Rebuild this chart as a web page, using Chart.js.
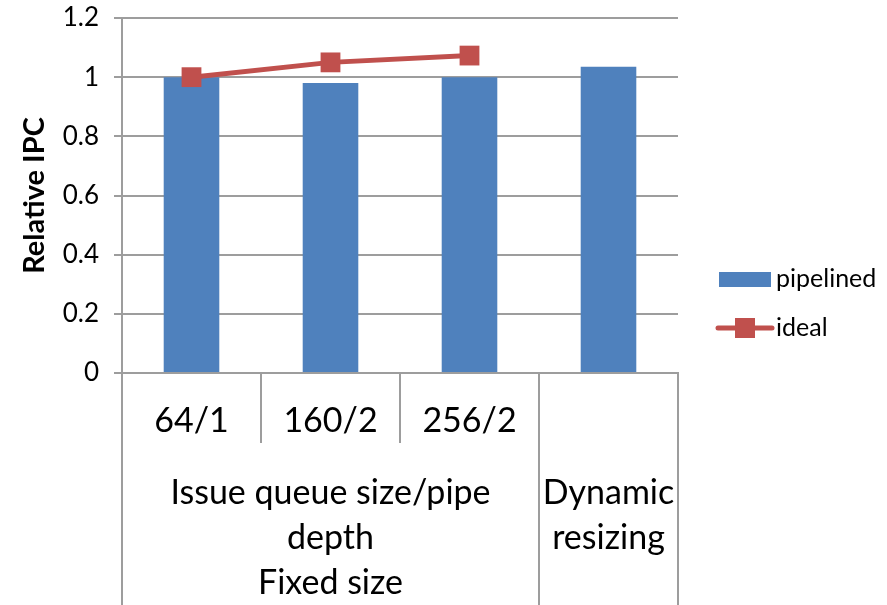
<!DOCTYPE html>
<html>
<head>
<meta charset="utf-8">
<script src="https://cdn.jsdelivr.net/npm/chart.js@4/dist/chart.umd.min.js"></script>
<style>
  html, body { margin: 0; padding: 0; background: #fff; }
  #wrap { width: 887px; height: 605px; position: relative; }
</style>
</head>
<body>
<div id="wrap"><canvas id="chart"></canvas></div>
<script>
// dados
const categorias = ['64/1', '160/2', '256/2', ''];
const pipelined = [1.0, 0.98, 1.0, 1.035];
const ideal = [1.0, 1.05, 1.073, null];
const yTicks = [0, 0.2, 0.4, 0.6, 0.8, 1, 1.2];
const grupoLabels = [['Issue queue size/pipe', 'depth', 'Fixed size'], ['Dynamic', 'resizing']];
const grupoInicio = [0, 3];
const grupoFim = [2, 3];

const AZUL = '#4F81BD';
const VERMELHO = '#C0504D';
const CINZA = '#9d9d9d';
const FONTE = 'Lato, "Open Sans", sans-serif';

// eixo de categorias em dois níveis + legenda
const grupoPlugin = {
    id: 'grupos',
    afterDraw(chart) {
        const ctx = chart.ctx;
        const x = chart.scales.x;
        const area = chart.chartArea;
        const passo = x.getPixelForValue(1) - x.getPixelForValue(0);
        const borda = (i) => x.getPixelForValue(i) - passo / 2;
        const topoGrupo = area.bottom + 70;

        ctx.save();
        ctx.strokeStyle = CINZA;
        ctx.lineWidth = 2;
        const limites = [0];
        grupoFim.forEach(f => limites.push(f + 1));
        limites.forEach(i => {
            const px = Math.round(borda(i));
            ctx.beginPath();
            ctx.moveTo(px, topoGrupo);
            ctx.lineTo(px, chart.height);
            ctx.stroke();
        });

        ctx.fillStyle = '#000';
        ctx.font = '34px ' + FONTE;
        ctx.textAlign = 'center';
        ctx.textBaseline = 'middle';
        grupoLabels.forEach((linhas, g) => {
            const cx = (borda(grupoInicio[g]) + borda(grupoFim[g] + 1)) / 2;
            linhas.forEach((t, k) => {
                ctx.fillText(t, cx, 493 + k * 45);
            });
        });

        // legenda
        const ds = chart.data.datasets;
        const lx = 719;
        ctx.font = '25px ' + FONTE;
        ctx.textAlign = 'left';
        ds.forEach(d => {
            const cy = d.type === 'bar' ? 279 : 328;
            if (d.type === 'bar') {
                ctx.fillStyle = d.backgroundColor;
                ctx.fillRect(lx, cy - 7, 52, 15);
            } else {
                ctx.strokeStyle = d.borderColor;
                ctx.lineWidth = 5;
                ctx.lineCap = 'round';
                ctx.beginPath();
                ctx.moveTo(lx - 1, cy);
                ctx.lineTo(lx + 53, cy);
                ctx.stroke();
                ctx.fillStyle = d.pointBackgroundColor;
                ctx.fillRect(lx + 16, cy - 10, 20, 20);
            }
            ctx.fillStyle = '#000';
            ctx.fillText(d.label, lx + 57, cy);
        });
        ctx.restore();
    }
};

new Chart(document.getElementById('chart'), {
    data: {
        labels: categorias,
        datasets: [
            {
                type: 'bar',
                label: 'pipelined',
                data: pipelined,
                backgroundColor: AZUL,
                categoryPercentage: 1,
                barPercentage: 0.4,
                order: 2
            },
            {
                type: 'line',
                label: 'ideal',
                data: ideal,
                borderColor: VERMELHO,
                borderWidth: 5,
                pointStyle: 'rect',
                pointRadius: 14,
                pointBackgroundColor: VERMELHO,
                pointBorderColor: VERMELHO,
                pointBorderWidth: 0,
                tension: 0,
                order: 1
            }
        ]
    },
    options: {
        responsive: true,
        maintainAspectRatio: false,
        animation: false,
        layout: { padding: { top: 18, right: 209, bottom: 0, left: 0 } },
        plugins: {
            legend: { display: false },
            tooltip: { enabled: false }
        },
        scales: {
            x: {
                type: 'category',
                offset: true,
                afterFit: (s) => { s.height = 232; },
                grid: {
                    offset: true,
                    drawOnChartArea: false,
                    drawTicks: true,
                    tickLength: 70,
                    color: CINZA,
                    lineWidth: 2
                },
                border: { display: true, color: CINZA, width: 2 },
                ticks: {
                    color: '#000',
                    font: { family: FONTE, size: 34 },
                    padding: -42,
                    maxRotation: 0,
                    autoSkip: false
                }
            },
            y: {
                min: 0,
                max: 1.2,
                afterFit: (s) => {
                    s.width = 122;
                    s.paddingTop = 0;
                    s.paddingBottom = 0;
                },
                afterBuildTicks: (s) => { s.ticks = yTicks.map(v => ({ value: v })); },
                grid: {
                    color: CINZA,
                    lineWidth: 2,
                    drawTicks: true,
                    tickLength: 8
                },
                border: { display: true, color: CINZA, width: 2 },
                ticks: {
                    color: '#000',
                    font: { family: FONTE, size: 26 },
                    padding: 15,
                    callback: (v) => String(+v.toFixed(1))
                },
                title: {
                    display: true,
                    text: 'Relative IPC',
                    color: '#000',
                    font: { family: FONTE, size: 29, weight: 'bold' },
                    padding: { top: 17, bottom: 0 }
                }
            }
        }
    },
    plugins: [grupoPlugin]
});
</script>
</body>
</html>
